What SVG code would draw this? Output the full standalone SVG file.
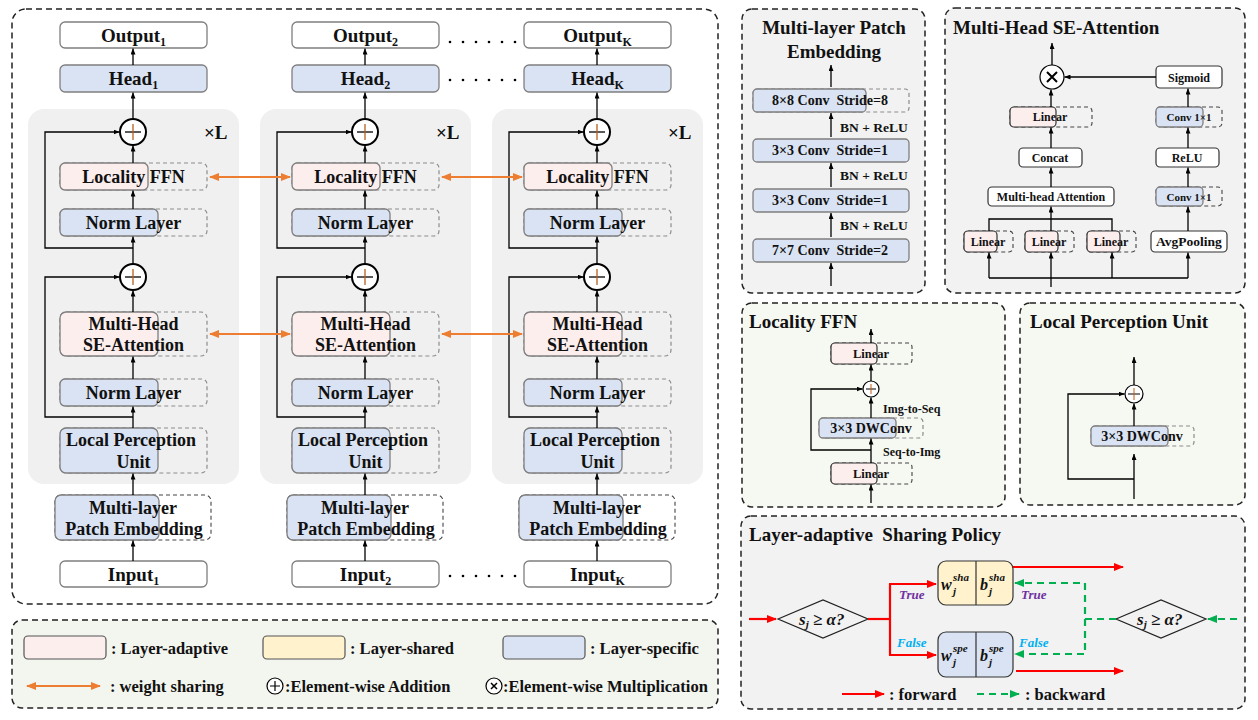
<svg xmlns="http://www.w3.org/2000/svg" width="1258" height="720" viewBox="0 0 1258 720">
<defs>
<marker id="ah" markerWidth="6" markerHeight="5" refX="6" refY="2.5" orient="auto" markerUnits="userSpaceOnUse"><path d="M0,0 L6,2.5 L0,5 z" fill="#000"/></marker>
<marker id="ao" markerWidth="10" markerHeight="8" refX="9" refY="4" orient="auto-start-reverse" markerUnits="userSpaceOnUse"><path d="M0,0 L10,4 L0,8 z" fill="#ed7d31"/></marker>
<marker id="ar" markerWidth="10" markerHeight="8" refX="9" refY="4" orient="auto" markerUnits="userSpaceOnUse"><path d="M0,0 L10,4 L0,8 z" fill="#ff0000"/></marker>
<marker id="ag" markerWidth="10" markerHeight="8" refX="9" refY="4" orient="auto" markerUnits="userSpaceOnUse"><path d="M0,0 L10,4 L0,8 z" fill="#00b050"/></marker>
</defs>
<style>
text{font-family:"Liberation Serif","Times New Roman",serif;font-weight:bold;fill:#111;white-space:pre}
.m{text-anchor:middle}
.t19{font-size:19px}
.t18{font-size:18px}
.t14{font-size:14px}
.t13{font-size:13.5px}
.t12{font-size:12px}
.t16{font-size:16.5px}
.panel{stroke:#222;stroke-width:1.5;stroke-dasharray:6,4}
.blk{fill:#f0f0f0}
.box{stroke:#7f7f7f;stroke-width:1.3}
.dbox{stroke:#333;stroke-width:1.2}
.blue{fill:#dae3f3}
.pink{fill:#fdeeee}
.yel{fill:#fff2cc}
.wht{fill:#fff}
.dsh{fill:none;stroke:#8c8c8c;stroke-width:1.2;stroke-dasharray:4,3}
.dsh2{fill:none;stroke:#444;stroke-width:1.1;stroke-dasharray:4,3}
.ln{stroke:#000;stroke-width:1.3;fill:none}
.arr{stroke:#000;stroke-width:1.3;fill:none;marker-end:url(#ah)}
.circ{fill:#fff;stroke:#000;stroke-width:2}
.circ1{fill:#fff;stroke:#000;stroke-width:1.2}
.or{stroke:#ed7d31;stroke-width:2;fill:none;marker-start:url(#ao);marker-end:url(#ao)}
.red{stroke:#ff0000;stroke-width:2.2;fill:none}
.grn{stroke:#00b050;stroke-width:2.2;fill:none;stroke-dasharray:7,5}
.mi{font-style:italic}
</style>

<!-- main panel -->
<rect class="panel" x="12" y="9" width="706" height="595" rx="14" fill="#fff"/>

<!-- columns -->
<g id="col1">
 <rect class="blk" x="28" y="109" width="211" height="375" rx="16"/>
 <text class="t19" x="204" y="139">×L</text>
 <g id="c1-output"><rect class="box wht" x="60" y="22" width="147" height="26" rx="5"/><text class="t19 m" x="133.5" y="42">Output<tspan dy="4" font-size="12">1</tspan></text></g>
 <g id="c1-head"><rect class="box blue" x="60" y="65" width="147" height="27" rx="5"/><text class="t19 m" x="133.5" y="85">Head<tspan dy="4" font-size="12">1</tspan></text></g>
 <g id="c1-add2"><circle class="circ" cx="133" cy="132" r="13"/><path d="M125,132 H141" stroke="#000" stroke-width="1.3"/><path d="M133,124 V140" stroke="#b8601e" stroke-width="1.3"/></g>
 <g id="c1-lffn"><rect class="dsh" x="60" y="163" width="147" height="27" rx="5"/><rect class="box pink" x="60" y="163" width="88" height="27" rx="5"/><text class="t18 m" x="133.5" y="183">Locality FFN</text></g>
 <g id="c1-norm1"><rect class="dsh" x="60" y="209" width="147" height="27" rx="5"/><rect class="box blue" x="60" y="209" width="98" height="27" rx="5"/><text class="t18 m" x="133.5" y="229">Norm Layer</text></g>
 <g id="c1-add1"><circle class="circ" cx="133" cy="277" r="13"/><path d="M125,277 H141" stroke="#000" stroke-width="1.3"/><path d="M133,269 V285" stroke="#b8601e" stroke-width="1.3"/></g>
 <g id="c1-mhsa"><rect class="dsh" x="60" y="312" width="147" height="44" rx="6"/><rect class="box pink" x="60" y="312" width="98" height="44" rx="6"/><text class="t18 m" x="133.5" y="330">Multi-Head</text><text class="t18 m" x="133.5" y="351">SE-Attention</text></g>
 <g id="c1-norm2"><rect class="dsh" x="60" y="379" width="147" height="27" rx="5"/><rect class="box blue" x="60" y="379" width="98" height="27" rx="5"/><text class="t18 m" x="133.5" y="399">Norm Layer</text></g>
 <g id="c1-lpu"><rect class="dsh" x="60" y="428" width="147" height="45" rx="6"/><rect class="box blue" x="60" y="428" width="98" height="45" rx="6"/><text class="t18 m" x="131" y="446">Local Perception</text><text class="t18 m" x="133.5" y="468">Unit</text></g>
 <g id="c1-mpe"><rect class="dsh2" x="55" y="495" width="156" height="45" rx="6"/><rect class="box blue" x="55" y="495" width="104" height="45" rx="6"/><text class="t18 m" x="133" y="514">Multi-layer</text><text class="t18 m" x="134" y="535">Patch Embedding</text></g>
 <g id="c1-input"><rect class="box wht" x="60" y="561" width="147" height="26" rx="5"/><text class="t19 m" x="133.5" y="581">Input<tspan dy="4" font-size="12">1</tspan></text></g>
 <g id="c1-conn">
  <path class="arr" d="M133,561 V540.5"/>
  <path class="arr" d="M133,495 V473.5"/>
  <path class="arr" d="M133,428 V406.5"/>
  <path class="arr" d="M133,379 V356.5"/>
  <path class="arr" d="M133,312 V290.5"/>
  <path class="arr" d="M133,264 V236.5"/>
  <path class="arr" d="M133,209 V190.5"/>
  <path class="arr" d="M133,163 V145.5"/>
  <path class="arr" d="M133,119 V92.5"/>
  <path class="arr" d="M133,65 V48.5"/>
  <path class="arr" d="M133,417 H45 V277 H119.5"/>
  <path class="arr" d="M133,248 H45 V132 H119.5"/>
 </g>
</g>

<g id="col2" transform="translate(232,0)">
 <rect class="blk" x="28" y="109" width="211" height="375" rx="16"/>
 <text class="t19" x="204" y="139">×L</text>
 <g id="c2-output"><rect class="box wht" x="60" y="22" width="147" height="26" rx="5"/><text class="t19 m" x="133.5" y="42">Output<tspan dy="4" font-size="12">2</tspan></text></g>
 <g id="c2-head"><rect class="box blue" x="60" y="65" width="147" height="27" rx="5"/><text class="t19 m" x="133.5" y="85">Head<tspan dy="4" font-size="12">2</tspan></text></g>
 <g id="c2-add2"><circle class="circ" cx="133" cy="132" r="13"/><path d="M125,132 H141" stroke="#000" stroke-width="1.3"/><path d="M133,124 V140" stroke="#b8601e" stroke-width="1.3"/></g>
 <g id="c2-lffn"><rect class="dsh" x="60" y="163" width="147" height="27" rx="5"/><rect class="box pink" x="60" y="163" width="88" height="27" rx="5"/><text class="t18 m" x="133.5" y="183">Locality FFN</text></g>
 <g id="c2-norm1"><rect class="dsh" x="60" y="209" width="147" height="27" rx="5"/><rect class="box blue" x="60" y="209" width="98" height="27" rx="5"/><text class="t18 m" x="133.5" y="229">Norm Layer</text></g>
 <g id="c2-add1"><circle class="circ" cx="133" cy="277" r="13"/><path d="M125,277 H141" stroke="#000" stroke-width="1.3"/><path d="M133,269 V285" stroke="#b8601e" stroke-width="1.3"/></g>
 <g id="c2-mhsa"><rect class="dsh" x="60" y="312" width="147" height="44" rx="6"/><rect class="box pink" x="60" y="312" width="98" height="44" rx="6"/><text class="t18 m" x="133.5" y="330">Multi-Head</text><text class="t18 m" x="133.5" y="351">SE-Attention</text></g>
 <g id="c2-norm2"><rect class="dsh" x="60" y="379" width="147" height="27" rx="5"/><rect class="box blue" x="60" y="379" width="98" height="27" rx="5"/><text class="t18 m" x="133.5" y="399">Norm Layer</text></g>
 <g id="c2-lpu"><rect class="dsh" x="60" y="428" width="147" height="45" rx="6"/><rect class="box blue" x="60" y="428" width="98" height="45" rx="6"/><text class="t18 m" x="131" y="446">Local Perception</text><text class="t18 m" x="133.5" y="468">Unit</text></g>
 <g id="c2-mpe"><rect class="dsh2" x="55" y="495" width="156" height="45" rx="6"/><rect class="box blue" x="55" y="495" width="104" height="45" rx="6"/><text class="t18 m" x="133" y="514">Multi-layer</text><text class="t18 m" x="134" y="535">Patch Embedding</text></g>
 <g id="c2-input"><rect class="box wht" x="60" y="561" width="147" height="26" rx="5"/><text class="t19 m" x="133.5" y="581">Input<tspan dy="4" font-size="12">2</tspan></text></g>
 <g id="c2-conn">
  <path class="arr" d="M133,561 V540.5"/>
  <path class="arr" d="M133,495 V473.5"/>
  <path class="arr" d="M133,428 V406.5"/>
  <path class="arr" d="M133,379 V356.5"/>
  <path class="arr" d="M133,312 V290.5"/>
  <path class="arr" d="M133,264 V236.5"/>
  <path class="arr" d="M133,209 V190.5"/>
  <path class="arr" d="M133,163 V145.5"/>
  <path class="arr" d="M133,119 V92.5"/>
  <path class="arr" d="M133,65 V48.5"/>
  <path class="arr" d="M133,417 H45 V277 H119.5"/>
  <path class="arr" d="M133,248 H45 V132 H119.5"/>
 </g>
</g>

<g id="col3" transform="translate(464,0)">
 <rect class="blk" x="28" y="109" width="211" height="375" rx="16"/>
 <text class="t19" x="204" y="139">×L</text>
 <g id="c3-output"><rect class="box wht" x="60" y="22" width="147" height="26" rx="5"/><text class="t19 m" x="133.5" y="42">Output<tspan dy="4" font-size="12">K</tspan></text></g>
 <g id="c3-head"><rect class="box blue" x="60" y="65" width="147" height="27" rx="5"/><text class="t19 m" x="133.5" y="85">Head<tspan dy="4" font-size="12">K</tspan></text></g>
 <g id="c3-add2"><circle class="circ" cx="133" cy="132" r="13"/><path d="M125,132 H141" stroke="#000" stroke-width="1.3"/><path d="M133,124 V140" stroke="#b8601e" stroke-width="1.3"/></g>
 <g id="c3-lffn"><rect class="dsh" x="60" y="163" width="147" height="27" rx="5"/><rect class="box pink" x="60" y="163" width="88" height="27" rx="5"/><text class="t18 m" x="133.5" y="183">Locality FFN</text></g>
 <g id="c3-norm1"><rect class="dsh" x="60" y="209" width="147" height="27" rx="5"/><rect class="box blue" x="60" y="209" width="98" height="27" rx="5"/><text class="t18 m" x="133.5" y="229">Norm Layer</text></g>
 <g id="c3-add1"><circle class="circ" cx="133" cy="277" r="13"/><path d="M125,277 H141" stroke="#000" stroke-width="1.3"/><path d="M133,269 V285" stroke="#b8601e" stroke-width="1.3"/></g>
 <g id="c3-mhsa"><rect class="dsh" x="60" y="312" width="147" height="44" rx="6"/><rect class="box pink" x="60" y="312" width="98" height="44" rx="6"/><text class="t18 m" x="133.5" y="330">Multi-Head</text><text class="t18 m" x="133.5" y="351">SE-Attention</text></g>
 <g id="c3-norm2"><rect class="dsh" x="60" y="379" width="147" height="27" rx="5"/><rect class="box blue" x="60" y="379" width="98" height="27" rx="5"/><text class="t18 m" x="133.5" y="399">Norm Layer</text></g>
 <g id="c3-lpu"><rect class="dsh" x="60" y="428" width="147" height="45" rx="6"/><rect class="box blue" x="60" y="428" width="98" height="45" rx="6"/><text class="t18 m" x="131" y="446">Local Perception</text><text class="t18 m" x="133.5" y="468">Unit</text></g>
 <g id="c3-mpe"><rect class="dsh2" x="55" y="495" width="156" height="45" rx="6"/><rect class="box blue" x="55" y="495" width="104" height="45" rx="6"/><text class="t18 m" x="133" y="514">Multi-layer</text><text class="t18 m" x="134" y="535">Patch Embedding</text></g>
 <g id="c3-input"><rect class="box wht" x="60" y="561" width="147" height="26" rx="5"/><text class="t19 m" x="133.5" y="581">Input<tspan dy="4" font-size="12">K</tspan></text></g>
 <g id="c3-conn">
  <path class="arr" d="M133,561 V540.5"/>
  <path class="arr" d="M133,495 V473.5"/>
  <path class="arr" d="M133,428 V406.5"/>
  <path class="arr" d="M133,379 V356.5"/>
  <path class="arr" d="M133,312 V290.5"/>
  <path class="arr" d="M133,264 V236.5"/>
  <path class="arr" d="M133,209 V190.5"/>
  <path class="arr" d="M133,163 V145.5"/>
  <path class="arr" d="M133,119 V92.5"/>
  <path class="arr" d="M133,65 V48.5"/>
  <path class="arr" d="M133,417 H45 V277 H119.5"/>
  <path class="arr" d="M133,248 H45 V132 H119.5"/>
 </g>
</g>

<!-- dots and sharing arrows -->
<g id="dots" fill="#000">
 <circle cx="450" cy="42" r="1.3"/><circle cx="463" cy="42" r="1.3"/><circle cx="476" cy="42" r="1.3"/><circle cx="489" cy="42" r="1.3"/><circle cx="502" cy="42" r="1.3"/><circle cx="515" cy="42" r="1.3"/>
 <circle cx="450" cy="80" r="1.3"/><circle cx="463" cy="80" r="1.3"/><circle cx="476" cy="80" r="1.3"/><circle cx="489" cy="80" r="1.3"/><circle cx="502" cy="80" r="1.3"/><circle cx="515" cy="80" r="1.3"/>
 <circle cx="450" cy="576" r="1.3"/><circle cx="463" cy="576" r="1.3"/><circle cx="476" cy="576" r="1.3"/><circle cx="489" cy="576" r="1.3"/><circle cx="502" cy="576" r="1.3"/><circle cx="515" cy="576" r="1.3"/>
</g>
<g id="weight-sharing">
 <path class="or" d="M210,177 H290"/>
 <path class="or" d="M442,177 H522"/>
 <path class="or" d="M210,334 H290"/>
 <path class="or" d="M442,334 H522"/>
</g>

<!-- Multi-layer Patch Embedding panel -->
<g id="panel-mpe">
 <rect class="panel" x="742" y="9" width="183" height="284" rx="10" fill="#f2f2f2"/>
 <text class="t19 m" x="834" y="34">Multi-layer Patch</text>
 <text class="t19 m" x="834" y="58">Embedding</text>
 <g id="mpe-c8"><rect class="dsh" x="753" y="89" width="156" height="23" rx="4"/><rect class="box blue" x="753" y="89" width="113" height="23" rx="4"/><text class="t14 m" x="830" y="105">8×8 Conv  Stride=8</text></g>
 <g id="mpe-c3b"><rect class="box blue" x="753" y="139" width="156" height="23" rx="4"/><text class="t14 m" x="830" y="155">3×3 Conv  Stride=1</text></g>
 <g id="mpe-c3a"><rect class="box blue" x="753" y="189" width="156" height="23" rx="4"/><text class="t14 m" x="830" y="205">3×3 Conv  Stride=1</text></g>
 <g id="mpe-c7"><rect class="box blue" x="753" y="239" width="156" height="23" rx="4"/><text class="t14 m" x="830" y="255">7×7 Conv  Stride=2</text></g>
 <g id="mpe-conn">
  <path class="arr" d="M831,286 V263"/>
  <path class="arr" d="M831,237 V213"/>
  <path class="arr" d="M831,187 V163"/>
  <path class="arr" d="M831,137 V113"/>
  <path class="arr" d="M831,87 V65"/>
 </g>
 <text class="t13" x="840" y="132">BN + ReLU</text>
 <text class="t13" x="840" y="180">BN + ReLU</text>
 <text class="t13" x="840" y="230">BN + ReLU</text>
</g>

<!-- Multi-Head SE-Attention panel -->
<g id="panel-se">
 <rect class="panel" x="945" y="8" width="300" height="285" rx="10" fill="#f2f2f2"/>
 <text class="t19" x="953" y="34">Multi-Head SE-Attention</text>
 <g id="se-mul"><circle class="circ1" cx="1052" cy="77" r="12"/><path d="M1047,72 L1057,82 M1057,72 L1047,82" stroke="#000" stroke-width="2"/></g>
 <g id="se-sigmoid"><rect class="dbox wht" x="1156" y="66" width="66" height="22" rx="4"/><text class="t12 m" x="1189" y="82">Sigmoid</text></g>
 <g id="se-linear-top"><rect class="dsh2" x="1010" y="107" width="82" height="20" rx="4"/><rect class="dbox pink" x="1010" y="107" width="46" height="20" rx="4"/><text class="t12 m" x="1050" y="121">Linear</text></g>
 <g id="se-concat"><rect class="dbox wht" x="1019" y="148" width="63" height="19" rx="4"/><text class="t12 m" x="1050" y="162">Concat</text></g>
 <g id="se-mha"><rect class="dbox wht" x="988" y="187" width="126" height="19" rx="4"/><text class="t12 m" x="1051" y="201">Multi-head Attention</text></g>
 <g id="se-lin1"><rect class="dsh2" x="964" y="231" width="49" height="21" rx="4"/><rect class="dbox pink" x="964" y="231" width="33" height="21" rx="4"/><text class="t12 m" x="988" y="246">Linear</text></g>
 <g id="se-lin2"><rect class="dsh2" x="1025" y="231" width="49" height="21" rx="4"/><rect class="dbox pink" x="1025" y="231" width="33" height="21" rx="4"/><text class="t12 m" x="1049" y="246">Linear</text></g>
 <g id="se-lin3"><rect class="dsh2" x="1087" y="231" width="49" height="21" rx="4"/><rect class="dbox pink" x="1087" y="231" width="33" height="21" rx="4"/><text class="t12 m" x="1111" y="246">Linear</text></g>
 <g id="se-avg"><rect class="dbox wht" x="1151" y="231" width="76" height="21" rx="4"/><text class="t13 m" x="1189" y="246">AvgPooling</text></g>
 <g id="se-conv-low"><rect class="dsh2" x="1156" y="187" width="66" height="19" rx="4"/><rect class="box blue" x="1156" y="187" width="47" height="19" rx="4"/><text class="m" x="1189" y="201" font-size="11">Conv 1×1</text></g>
 <g id="se-relu"><rect class="dbox wht" x="1156" y="148" width="63" height="19" rx="4"/><text class="t12 m" x="1187" y="162">ReLU</text></g>
 <g id="se-conv-up"><rect class="dsh2" x="1156" y="107" width="66" height="20" rx="4"/><rect class="box blue" x="1156" y="107" width="47" height="20" rx="4"/><text class="m" x="1189" y="121" font-size="11">Conv 1×1</text></g>
 <g id="se-conn">
  <path class="arr" d="M1052,65 V43"/>
  <path class="arr" d="M1156,77 H1064.5"/>
  <path class="arr" d="M1051,107 V89.5"/>
  <path class="arr" d="M1051,148 V127.5"/>
  <path class="arr" d="M1051,187 V167.5"/>
  <path class="arr" d="M1051,231 V206.5"/>
  <path class="ln" d="M989,231 V219 H1112 V231"/>
  <path class="ln" d="M1051,287 V278 M989,278 H1188"/>
  <path class="arr" d="M989,278 V252.5"/>
  <path class="arr" d="M1051,278 V252.5"/>
  <path class="arr" d="M1112,278 V252.5"/>
  <path class="arr" d="M1188,278 V252.5"/>
  <path class="arr" d="M1188,231 V206.5"/>
  <path class="arr" d="M1188,187 V167.5"/>
  <path class="arr" d="M1188,148 V127.5"/>
  <path class="arr" d="M1188,107 V88.5"/>
 </g>
</g>

<!-- Locality FFN panel -->
<g id="panel-lffn">
 <rect class="panel" x="742" y="303" width="263" height="204" rx="10" fill="#f6f8f2"/>
 <text class="t19" x="749" y="328">Locality FFN</text>
 <g id="lffn-lin-top"><rect class="dsh2" x="831" y="343" width="81" height="21" rx="4"/><rect class="dbox pink" x="831" y="343" width="46" height="21" rx="4"/><text class="m" x="871" y="358" font-size="12.5">Linear</text></g>
 <g id="lffn-add"><circle class="circ1" cx="871" cy="389" r="8"/><path d="M866,389 H876" stroke="#000" stroke-width="1"/><path d="M871,384 V394" stroke="#c55a11" stroke-width="1"/></g>
 <g id="lffn-dw"><rect class="dsh" x="819" y="418" width="104" height="20" rx="4"/><rect class="box blue" x="819" y="418" width="77" height="20" rx="4"/><text class="m" x="871" y="433" font-size="14">3×3 DWConv</text></g>
 <g id="lffn-lin-bot"><rect class="dsh2" x="831" y="463" width="81" height="21" rx="4"/><rect class="dbox pink" x="831" y="463" width="46" height="21" rx="4"/><text class="m" x="871" y="478" font-size="12.5">Linear</text></g>
 <text class="t12" x="883" y="413">Img-to-Seq</text>
 <text class="t12" x="883" y="456">Seq-to-Img</text>
 <g id="lffn-conn">
  <path class="arr" d="M871,343 V329"/>
  <path class="arr" d="M871,381 V364.5"/>
  <path class="arr" d="M871,418 V397.5"/>
  <path class="arr" d="M871,463 V438.5"/>
  <path class="arr" d="M871,503 V484.5"/>
  <path class="arr" d="M871,450 H811 V389 H862.5"/>
 </g>
</g>

<!-- Local Perception Unit panel -->
<g id="panel-lpu">
 <rect class="panel" x="1020" y="303" width="225" height="202" rx="10" fill="#f6f8f2"/>
 <text class="t19" x="1030" y="328">Local Perception Unit</text>
 <g id="lpu-add"><circle class="circ1" cx="1134" cy="394" r="9"/><path d="M1128,394 H1140" stroke="#000" stroke-width="1"/><path d="M1134,388 V400" stroke="#c55a11" stroke-width="1"/></g>
 <g id="lpu-dw"><rect class="dsh" x="1091" y="426" width="103" height="20" rx="4"/><rect class="box blue" x="1091" y="426" width="77" height="20" rx="4"/><text class="m" x="1142" y="441" font-size="14">3×3 DWConv</text></g>
 <g id="lpu-conn">
  <path class="arr" d="M1134,385 V357"/>
  <path class="arr" d="M1134,426 V403.5"/>
  <path class="arr" d="M1134,499 V454"/>
  <path class="arr" d="M1134,479 H1068 V394 H1124.5"/>
 </g>
</g>

<!-- Sharing policy panel -->
<g id="panel-share">
 <rect class="panel" x="741" y="516" width="504" height="193" rx="10" fill="#f2f2f2"/>
 <text class="t19" x="749" y="541">Layer-adaptive  Sharing Policy</text>
 <g id="sp-shared"><rect x="938" y="561" width="75" height="44" rx="8" fill="#fff2cc" stroke="#333" stroke-width="1.2"/><path d="M976,561 V605" stroke="#333" stroke-width="1.2"/>
  <text class="mi" x="941" y="590" font-size="16">w</text><text class="mi" x="953" y="581" font-size="11">sha</text><text class="mi" x="953" y="595" font-size="11">j</text>
  <text class="mi" x="980" y="590" font-size="16">b</text><text class="mi" x="989" y="581" font-size="11">sha</text><text class="mi" x="989" y="595" font-size="11">j</text></g>
 <g id="sp-specific"><rect x="938" y="632" width="75" height="45" rx="8" fill="#dae3f3" stroke="#333" stroke-width="1.2"/><path d="M976,632 V677" stroke="#333" stroke-width="1.2"/>
  <text class="mi" x="941" y="661" font-size="16">w</text><text class="mi" x="953" y="652" font-size="11">spe</text><text class="mi" x="953" y="666" font-size="11">j</text>
  <text class="mi" x="980" y="661" font-size="16">b</text><text class="mi" x="989" y="652" font-size="11">spe</text><text class="mi" x="989" y="666" font-size="11">j</text></g>
 <g id="sp-cond-left"><polygon points="778,619 823,600 868,619 823,638" fill="#f2f2f2" stroke="#222" stroke-width="1.2"/>
  <text class="mi" x="799" y="625" font-size="17">s<tspan font-size="11" dy="3">j</tspan><tspan dy="-3"> ≥ α?</tspan></text></g>
 <g id="sp-cond-right"><polygon points="1116,619 1161,600 1206,619 1161,638" fill="#f2f2f2" stroke="#222" stroke-width="1.2"/>
  <text class="mi" x="1137" y="625" font-size="17">s<tspan font-size="11" dy="3">j</tspan><tspan dy="-3"> ≥ α?</tspan></text></g>
 <g id="sp-conn">
  <path class="red" d="M749,619 H776" marker-end="url(#ar)"/>
  <path class="red" d="M868,619 H890"/>
  <path class="red" d="M890,584 V655"/>
  <path class="red" d="M889,584 H936" marker-end="url(#ar)"/>
  <path class="red" d="M889,655 H936" marker-end="url(#ar)"/>
  <path class="red" d="M1013,567 H1123" marker-end="url(#ar)"/>
  <path class="red" d="M1016,671 H1123" marker-end="url(#ar)"/>
  <path class="grn" d="M1237,619 H1208" marker-end="url(#ag)"/>
  <path class="grn" d="M1116,619 H1085 V583 H1015" marker-end="url(#ag)"/>
  <path class="grn" d="M1085,619 V654 H1015" marker-end="url(#ag)"/>
 </g>
 <text class="mi" x="899" y="599" font-size="13" style="fill:#7030a0">True</text>
 <text class="mi" x="1021" y="599" font-size="13" style="fill:#7030a0">True</text>
 <text class="mi" x="897" y="647" font-size="13" style="fill:#00b0f0">False</text>
 <text class="mi" x="1019" y="647" font-size="13" style="fill:#00b0f0">False</text>
 <path class="red" d="M842,694 H884" marker-end="url(#ar)"/>
 <text class="t16" x="889" y="700">: forward</text>
 <path class="grn" d="M977,694 H1019" marker-end="url(#ag)"/>
 <text class="t16" x="1025" y="700">: backward</text>
</g>

<!-- Legend -->
<g id="legend">
 <rect class="panel" x="12" y="620" width="706" height="88" rx="10" fill="#f3f5ef"/>
 <rect x="24" y="636" width="82" height="23" rx="4" fill="#fdeeee" stroke="#555" stroke-width="1.2"/>
 <text class="t16" x="111" y="654">: Layer-adaptive</text>
 <rect x="263" y="636" width="82" height="23" rx="4" fill="#fff2cc" stroke="#555" stroke-width="1.2"/>
 <text class="t16" x="350" y="654">: Layer-shared</text>
 <rect x="503" y="636" width="82" height="23" rx="4" fill="#dae3f3" stroke="#555" stroke-width="1.2"/>
 <text class="t16" x="590" y="654">: Layer-specific</text>
 <path class="or" d="M27,686 H100"/>
 <text class="t16" x="110" y="692">: weight sharing</text>
 <circle class="circ1" cx="275" cy="686" r="8" stroke-width="1.5"/><path d="M270,686 H280 M275,681 V691" stroke="#000" stroke-width="1.2"/>
 <text class="t16" x="285" y="692">:Element-wise Addition</text>
 <circle class="circ1" cx="494" cy="686" r="8" stroke-width="1.5"/><path d="M491,683 L497,689 M497,683 L491,689" stroke="#000" stroke-width="1.5"/>
 <text class="t16" x="503" y="692">:Element-wise Multiplication</text>
</g>
</svg>
